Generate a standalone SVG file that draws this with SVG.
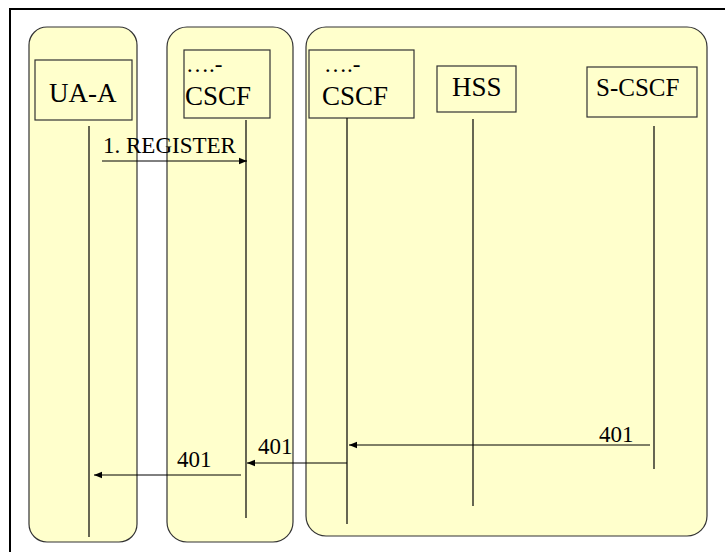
<svg xmlns="http://www.w3.org/2000/svg" width="725" height="552" viewBox="0 0 725 552" font-family="Liberation Serif, DejaVu Serif, serif">
<style>
.lane{fill:#ffffcc;stroke:#333;stroke-width:1.2}
.box{fill:#ffffcc;stroke:#333;stroke-width:1.2}
.life{stroke:#000;stroke-width:1.2;fill:none}
.msg{stroke:#000;stroke-width:1;fill:none;marker-end:url(#ah)}
.t{font-family:'Liberation Serif','DejaVu Serif',serif;fill:#000}
.nm{font-size:27px}
.lb{font-size:23px}
</style>
<defs>
<marker id="ah" markerWidth="8" markerHeight="8" refX="8" refY="4" orient="auto" markerUnits="userSpaceOnUse">
<path d="M0,0.8 L8,4 L0,7.2 Z" fill="#000"/>
</marker>
</defs>
<rect x="0" y="0" width="725" height="552" fill="#fff"/>
<rect x="10" y="9" width="800" height="600" fill="none" stroke="#000" stroke-width="2"/>
<g id="lane1"><rect class="lane" x="29" y="27" width="108" height="515" rx="18"/></g>
<g id="lane2"><rect class="lane" x="167" y="27" width="126" height="515" rx="20"/></g>
<g id="lane3"><rect class="lane" x="306" y="27" width="401" height="509" rx="20"/></g>
<g id="ua-a">
<rect class="box" x="35" y="60" width="97" height="60"/>
<text class="t nm" font-family="Liberation Serif" x="49" y="102">UA-A</text>
<line class="life" x1="89" y1="126" x2="89" y2="537"/>
</g>
<g id="cscf1">
<rect class="box" x="184" y="50" width="86" height="68"/>
<text class="t lb" font-family="Liberation Serif" x="186" y="72">….-</text>
<text class="t nm" font-family="Liberation Serif" x="185" y="105">CSCF</text>
<line class="life" x1="246" y1="120" x2="246" y2="518"/>
</g>
<g id="cscf2">
<rect class="box" x="309" y="50" width="105" height="68"/>
<text class="t lb" font-family="Liberation Serif" x="324" y="72">….-</text>
<text class="t nm" font-family="Liberation Serif" x="322" y="105">CSCF</text>
<line class="life" x1="347" y1="118" x2="347" y2="524"/>
</g>
<g id="hss">
<rect class="box" x="437" y="66" width="79" height="46"/>
<text class="t nm" font-family="Liberation Serif" x="452" y="96">HSS</text>
<line class="life" x1="473" y1="119" x2="473" y2="506"/>
</g>
<g id="s-cscf">
<rect class="box" x="587" y="67" width="110" height="50"/>
<text class="t nm" font-family="Liberation Serif" x="596" y="96" style="font-size:25px">S-CSCF</text>
<line class="life" x1="654" y1="126" x2="654" y2="469"/>
</g>
<g id="connectors">
<line class="msg" x1="102" y1="161" x2="247" y2="161"/>
<text class="t lb" font-family="Liberation Serif" x="103" y="153">1. REGISTER</text>
<line class="msg" x1="650" y1="445" x2="349" y2="445"/>
<text class="t lb" font-family="Liberation Serif" x="599" y="442">401</text>
<line class="msg" x1="347" y1="463" x2="247" y2="463"/>
<text class="t lb" font-family="Liberation Serif" x="258" y="454">401</text>
<line class="msg" x1="241" y1="475" x2="94" y2="475"/>
<text class="t lb" font-family="Liberation Serif" x="177" y="467">401</text>
</g>
</svg>
